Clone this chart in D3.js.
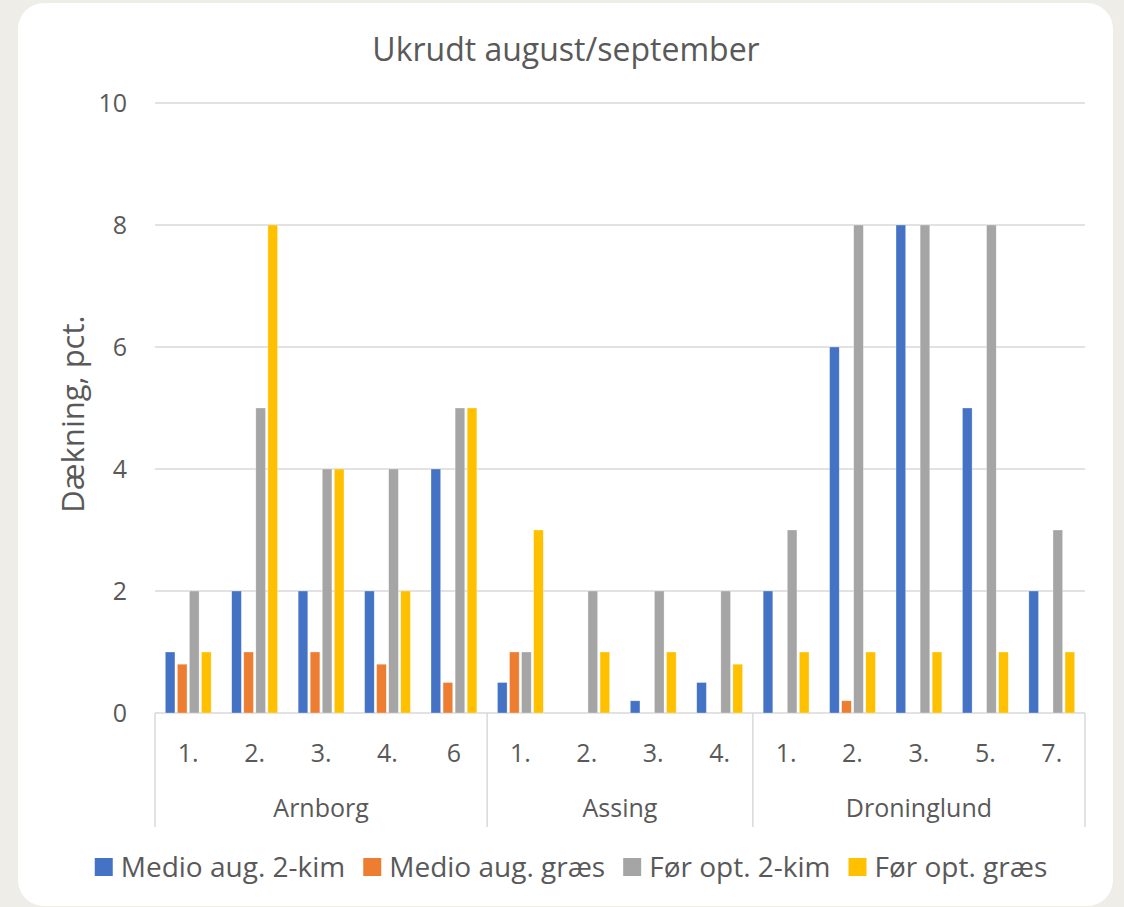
<!DOCTYPE html>
<html>
<head>
<meta charset="utf-8">
<script src="https://cdn.jsdelivr.net/npm/d3@7"></script>
<style>
  body { margin: 0; background: #eeede7; }
  text { font-family: "Open Sans", sans-serif; fill: #595959; }
</style>
</head>
<body>
<div id="chart"></div>
<script>
var width = 1124, height = 907;

// groups and their plots
var groups = ["Arnborg", "Assing", "Droninglund"];
var plots = [
  ["1.", "2.", "3.", "4.", "6"],
  ["1.", "2.", "3.", "4."],
  ["1.", "2.", "3.", "5.", "7."]
];
var seriesNames = ["Medio aug. 2-kim", "Medio aug. græs", "Før opt. 2-kim", "Før opt. græs"];
var colors = ["#4472c4", "#ed7d31", "#a5a5a5", "#ffc000"];

// values per plot, in plot order (Arnborg, Assing, Droninglund)
var medioKim   = [1, 2, 2, 2, 4,   0.5, 0, 0.2, 0.5,   2, 6, 8, 5, 2];
var medioGraes = [0.8, 1, 1, 0.8, 0.5,   1, 0, 0, 0,   0, 0.2, 0, 0, 0];
var forKim     = [2, 5, 4, 4, 5,   1, 2, 2, 2,   3, 8, 8, 8, 3];
var forGraes   = [1, 8, 4, 2, 5,   3, 1, 1, 0.8,   1, 1, 1, 1, 1];
var yTicks = [0, 2, 4, 6, 8, 10];

var allSeries = [medioKim, medioGraes, forKim, forGraes];

// flat list of categories
var cats = [];
groups.forEach(function(g, gi) {
  plots[gi].forEach(function(p) { cats.push({group: g, label: p, id: cats.length}); });
});

var margin = {left: 155, right: 1085, top: 103, bottom: 713};

var svg = d3.select("#chart").append("svg")
  .attr("width", width).attr("height", height);

// card
svg.append("rect")
  .attr("x", 18).attr("y", 3)
  .attr("width", 1095).attr("height", 903)
  .attr("rx", 26).attr("ry", 26)
  .attr("fill", "#ffffff");

var x = d3.scaleBand()
  .domain(cats.map(function(d) { return d.id; }))
  .range([margin.left, margin.right])
  .padding(0);

var gap = 10.3;
var xs = d3.scaleBand()
  .domain(d3.range(seriesNames.length))
  .range([gap, x.bandwidth() - gap])
  .paddingInner(0.2)
  .paddingOuter(0);

var y = d3.scaleLinear().domain([0, 10]).range([margin.bottom, margin.top]);

// gridlines
svg.append("g").selectAll("line")
  .data(yTicks)
  .enter().append("line")
  .attr("x1", margin.left).attr("x2", margin.right)
  .attr("y1", function(d) { return y(d); })
  .attr("y2", function(d) { return y(d); })
  .attr("stroke", "#d9d9d9")
  .attr("stroke-width", 1.5);

// y tick labels
svg.append("g").selectAll("text")
  .data(yTicks)
  .enter().append("text")
  .attr("x", 127)
  .attr("y", function(d) { return y(d); })
  .attr("dy", "0.35em")
  .attr("text-anchor", "end")
  .style("font-size", "25px")
  .text(function(d) { return d; });

// y axis title
svg.append("text")
  .attr("transform", "translate(84, 414) rotate(-90)")
  .attr("text-anchor", "middle")
  .style("font-size", "31px")
  .text("Dækning, pct.");

// title
svg.append("text")
  .attr("x", 566).attr("y", 61)
  .attr("text-anchor", "middle")
  .style("font-size", "32px")
  .text("Ukrudt august/september");

// bars
var barData = [];
cats.forEach(function(c, ci) {
  allSeries.forEach(function(s, si) {
    if (s[ci] > 0) barData.push({cat: c.id, s: si, v: s[ci]});
  });
});

svg.append("g").selectAll("rect")
  .data(barData)
  .enter().append("rect")
  .attr("x", function(d) { return x(d.cat) + xs(d.s); })
  .attr("y", function(d) { return y(d.v); })
  .attr("width", xs.bandwidth())
  .attr("height", function(d) { return y(0) - y(d.v); })
  .attr("fill", function(d) { return colors[d.s]; })
  .attr("stroke", "#ffffff")
  .attr("stroke-opacity", 0.5)
  .attr("stroke-width", 0.6);

// category labels
svg.append("g").selectAll("text")
  .data(cats)
  .enter().append("text")
  .attr("x", function(d) { return x(d.id) + x.bandwidth() / 2; })
  .attr("y", 753)
  .attr("dy", "0.35em")
  .attr("text-anchor", "middle")
  .style("font-size", "25px")
  .text(function(d) { return d.label; });

// group separators and labels
var start = 0, bounds = [margin.left];
groups.forEach(function(g, gi) {
  var n = plots[gi].length;
  var x0 = x(start), x1 = x(start + n - 1) + x.bandwidth();
  bounds.push(x1);
  svg.append("text")
    .attr("x", (x0 + x1) / 2)
    .attr("y", 808)
    .attr("dy", "0.35em")
    .attr("text-anchor", "middle")
    .style("font-size", "25px")
    .text(g);
  start += n;
});

svg.append("g").selectAll("line")
  .data(bounds)
  .enter().append("line")
  .attr("x1", function(d) { return d; })
  .attr("x2", function(d) { return d; })
  .attr("y1", margin.bottom)
  .attr("y2", 827)
  .attr("stroke", "#d9d9d9")
  .attr("stroke-width", 1.5);

// legend
var legend = svg.append("g");
var lx = 0;
seriesNames.forEach(function(name, i) {
  var item = legend.append("g").attr("transform", "translate(" + lx + ",0)");
  item.append("rect")
    .attr("x", 0).attr("y", -9)
    .attr("width", 18).attr("height", 18)
    .attr("fill", colors[i]);
  var t = item.append("text")
    .attr("x", 26).attr("y", 0)
    .attr("dy", "0.35em")
    .style("font-size", "28px")
    .text(name);
  lx += 26 + t.node().getComputedTextLength() + 18;
});
lx -= 18;
legend.attr("transform", "translate(" + (571 - lx / 2) + ",867)");
</script>
</body>
</html>
